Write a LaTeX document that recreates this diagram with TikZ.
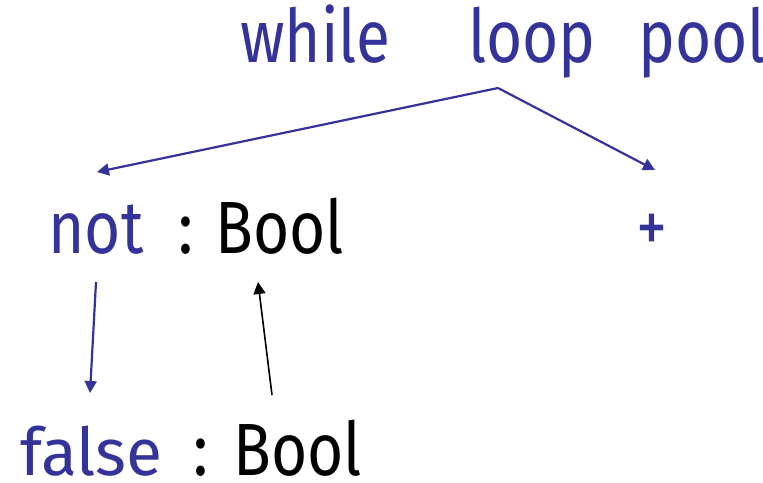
\documentclass[tikz,border=0pt]{standalone}
\usepackage{fontspec}
\setmainfont{Fira Sans}[FakeStretch=0.84]
\newfontfamily\widefont{Fira Sans}
\usetikzlibrary{arrows.meta}
\definecolor{kw}{HTML}{333399}
\tikzset{
  kwtext/.style={text=kw, inner sep=0pt, anchor=base west, font=\fontsize{37}{42}\selectfont},
  tytext/.style={text=black, inner sep=0pt, anchor=base west, font=\fontsize{37}{42}\selectfont},
  kwarrow/.style={draw=kw, line width=1.1pt, -{Triangle[length=6pt,width=6pt]}},
  tyarrow/.style={draw=black, line width=0.8pt, -{Triangle[length=6pt,width=6pt]}}
}
\begin{document}
\begin{tikzpicture}[x=0.5pt,y=-0.5pt]
\useasboundingbox (0,0) rectangle (763,482);
\node[kwtext] (while) at (240,62) {while};
\node[kwtext] (loop) at (468,62) {loop};
\node[kwtext] (pool) at (638,62) {pool};
\node[kwtext] (not) at (48,253) {not};
\node[tytext] (colonA) at (178,253) {:};
\node[tytext] (boolA) at (215,253) {Bool};
\node[kwtext, anchor=center] (plus) at (652,233) {+};
\node[kwtext, font=\widefont\fontsize{33}{38}\selectfont] (false) at (20,475) {false};
\node[tytext] (colonB) at (193,475) {:};
\node[tytext] (boolB) at (233,475) {Bool};
\coordinate (loopfoot) at (498,88);
\coordinate (nottip) at (97,172);
\coordinate (plustip) at (655,170);
\coordinate (nothead) at (96,282);
\coordinate (falsetip) at (90,393);
\coordinate (boolBtop) at (272,395);
\coordinate (boolAtip) at (258,282);
\draw[kwarrow] (loopfoot) -- (nottip);
\draw[kwarrow] (loopfoot) -- (plustip);
\draw[kwarrow] (nothead) -- (falsetip);
\draw[tyarrow] (boolBtop) -- (boolAtip);
\end{tikzpicture}
\end{document}
